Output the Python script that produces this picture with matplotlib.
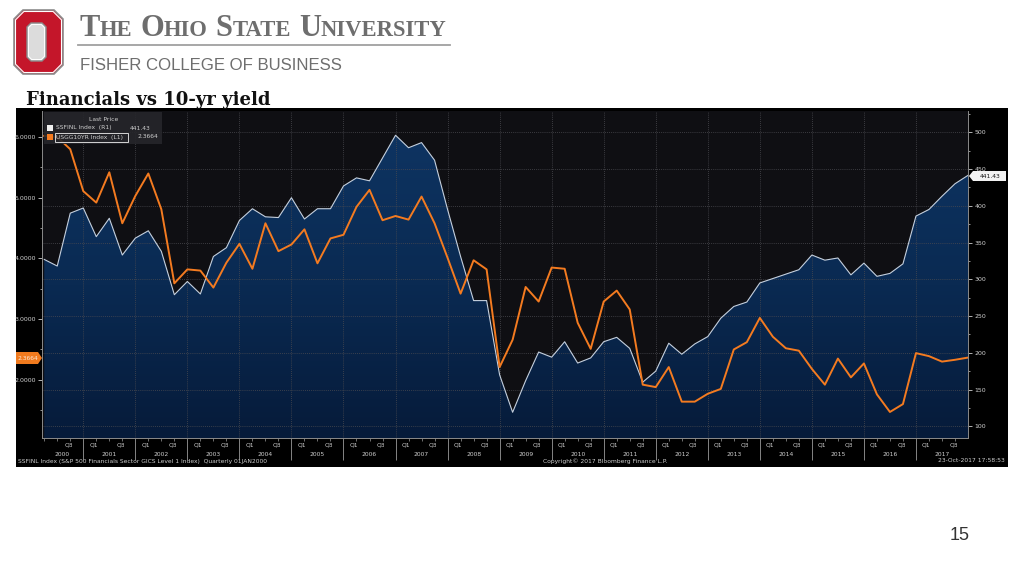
import numpy as np
import pandas as pd
import matplotlib
matplotlib.use('Agg')
import matplotlib.pyplot as plt
from matplotlib.patches import Polygon, Rectangle
from matplotlib.colors import LinearSegmentedColormap
from matplotlib.ticker import MultipleLocator, FormatStrFormatter, NullFormatter

# data, one point per quarter
quarters = pd.period_range('2000Q1', '2017Q4', freq='Q')
ssfinl = [327, 318, 390, 397, 358, 383, 333, 356, 366, 338,
          279, 297, 280, 331, 343, 380, 396, 385, 384, 411,
          382, 396, 396, 427, 438, 434, 465, 496, 479, 486,
          462, 395, 331, 271, 271, 170, 119, 162, 201, 194,
          215, 186, 193, 215, 221, 206, 160, 175, 213, 198,
          212, 222, 247, 263, 269, 295, 301, 307, 313, 333,
          326, 329, 306, 322, 304, 308, 321, 386, 395, 413,
          430, 441.43]
usgg10 = [6.02, 6.00, 5.80, 5.11, 4.92, 5.42, 4.58, 5.03, 5.40, 4.81,
          3.59, 3.82, 3.80, 3.52, 3.93, 4.24, 3.83, 4.58, 4.12, 4.23,
          4.48, 3.92, 4.33, 4.39, 4.85, 5.13, 4.63, 4.70, 4.64, 5.02,
          4.58, 4.01, 3.42, 3.97, 3.82, 2.21, 2.66, 3.53, 3.29, 3.85,
          3.83, 2.94, 2.51, 3.29, 3.47, 3.16, 1.92, 1.88, 2.21, 1.64,
          1.64, 1.77, 1.85, 2.50, 2.62, 3.02, 2.71, 2.52, 2.48, 2.18,
          1.92, 2.35, 2.04, 2.27, 1.76, 1.47, 1.60, 2.44, 2.39, 2.30,
          2.33, 2.3664]
years = list(range(2000, 2018))
right_ticks = list(range(100, 501, 50))
left_ticks = [2, 3, 4, 5, 6]

x = np.array([q.year + q.quarter / 4 for q in quarters])  # quarter end
ss = np.array(ssfinl)
yl = np.array(usgg10)

W, H = 1024, 576
fig = plt.figure(figsize=(W / 100, H / 100), dpi=100)
fig.patch.set_facecolor('white')

# background layer in pixel coords
bg = fig.add_axes([0, 0, 1, 1], zorder=-1)
bg.set_xlim(0, W)
bg.set_ylim(H, 0)
bg.axis('off')

def octagon(x0, y0, x1, y1, c):
    return [(x0 + c, y0), (x1 - c, y0), (x1, y0 + c), (x1, y1 - c),
            (x1 - c, y1), (x0 + c, y1), (x0, y1 - c), (x0, y0 + c)]

# block O logo
bg.add_patch(Polygon(octagon(14, 10, 63, 74, 9), closed=True, fc='#c4162a', ec='#8c8c8c', lw=1.2))
bg.add_patch(Polygon(octagon(15.5, 11.5, 61.5, 72.5, 8.4), closed=True, fc='none', ec='white', lw=0.8))
bg.add_patch(Polygon(octagon(27, 23, 46, 61, 4), closed=True, fc='#dcdcdc', ec='#8c8c8c', lw=1.0))
bg.add_patch(Polygon(octagon(28.5, 24.5, 44.5, 59.5, 3.2), closed=True, fc='none', ec='white', lw=0.7))

# small caps university name
r = fig.canvas.get_renderer()
parts = [('T', 1), ('HE', 0), (' ', 0), ('O', 1), ('HIO', 0), (' ', 0),
         ('S', 1), ('TATE', 0), (' ', 0), ('U', 1), ('NIVERSITY', 0)]
xp = 79
for s, big in parts:
    if s == ' ':
        xp += 8
        continue
    t = bg.text(xp, 36, s, fontsize=22 if big else 16.3, fontweight='bold',
                family='Liberation Serif', color='#6e6e6e', va='baseline', ha='left')
    xp += t.get_window_extent(r).width
bg.plot([78, 450], [45, 45], color='#a0a0a0', lw=1.3)
bg.text(80, 70, 'FISHER COLLEGE OF BUSINESS', fontsize=12.1, family='Liberation Sans',
        color='#6e6e6e', va='baseline', ha='left')
bg.text(26, 105, 'Financials vs 10-yr yield', fontsize=13, fontweight='bold',
        family='DejaVu Serif', color='#111111', va='baseline', ha='left')
bg.text(960, 536, '15', fontsize=13, family='Liberation Sans', color='#333333',
        ha='center', va='center')

# bloomberg black panel
bg.add_patch(Rectangle((16, 108), 992, 359, fc='black', ec='none'))
small = dict(fontsize=4.3, color='#cfcfcf', family='DejaVu Sans')
bg.text(18, 461, 'SSFINL Index (S&P 500 Financials Sector GICS Level 1 Index)  Quarterly 01JAN2000',
        va='center', ha='left', **small)
bg.text(605, 461, 'Copyright\u00a9 2017 Bloomberg Finance L.P.', va='center', ha='center', **small)
bg.text(1005, 461, '23-Oct-2017 17:58:53', va='center', ha='right', **small)

# plot axes
px0, px1, py0, py1 = 42, 968, 111, 438
rect = [px0 / W, 1 - py1 / H, (px1 - px0) / W, (py1 - py0) / H]
ax = fig.add_axes(rect)          # SSFINL, right scale
ax2 = ax.twinx()                 # USGG10YR, left scale
ax.set_facecolor('#0f0f13')
ax2.patch.set_visible(False)

xlo, xhi = 2000.207, 2018.0
rlo, rhi = 84, 529
llo, lhi = 1.041, 6.43

poly = ax.fill_between(x, ss, rlo, color='none', lw=0)
cmap = LinearSegmentedColormap.from_list('bb', ['#061b3a', '#0a2a52', '#0e3462'])
grad = np.linspace(0, 1, 256).reshape(-1, 1)
im = ax.imshow(grad, extent=[xlo, xhi, rlo, 500], origin='lower', aspect='auto',
               cmap=cmap, zorder=1)
im.set_clip_path(poly.get_paths()[0], transform=ax.transData)
ax.plot(x, ss, color='#c5d0de', lw=0.8, zorder=2)
ax2.plot(x, yl, color='#f47b20', lw=1.4, zorder=3)

ax.set_xlim(xlo, xhi)
ax.set_ylim(rlo, rhi)
ax2.set_ylim(llo, lhi)

# grid
ax.set_axisbelow('line')
ax.grid(True, which='major', axis='both', color='#4a4a50', ls=(0, (1, 1.5)), lw=0.6)

# right axis (SSFINL)
ax.yaxis.tick_right()
ax.set_yticks(right_ticks)
ax.yaxis.set_minor_locator(MultipleLocator(25))
ax.tick_params(axis='y', which='major', colors='#d0d0d0', labelsize=4.5, length=3, width=0.6, pad=1.5)
ax.tick_params(axis='y', which='minor', colors='#d0d0d0', length=1.5, width=0.5)

# left axis (yield)
ax2.yaxis.tick_left()
ax2.set_yticks(left_ticks)
ax2.yaxis.set_major_formatter(FormatStrFormatter('%.4f'))
ax2.yaxis.set_minor_locator(MultipleLocator(0.5))
ax2.tick_params(axis='y', which='major', colors='#d0d0d0', labelsize=4.5, length=3, width=0.6, pad=1.5)
ax2.tick_params(axis='y', which='minor', colors='#d0d0d0', length=1.5, width=0.5)
ax2.tick_params(axis='x', which='both', bottom=False, labelbottom=False)

# x axis: year boundaries as long ticks, quarters as short ticks
ax.set_xticks(years[1:])
ax.xaxis.set_major_formatter(NullFormatter())
ax.set_xticks(np.arange(2000.25, 2018, 0.25), minor=True)
ax.tick_params(axis='x', which='major', colors='#9a9a9a', length=16, width=0.6)
ax.tick_params(axis='x', which='minor', colors='#9a9a9a', length=2, width=0.5)
for a in (ax, ax2):
    a.spines['top'].set_visible(False)
    for side in ('left', 'right', 'bottom'):
        a.spines[side].set_color('#8a8a8a')
        a.spines[side].set_linewidth(0.6)

tr = ax.get_xaxis_transform()
for yr in years:
    if yr > 2000:
        ax.text(yr + 0.2, -0.015, 'Q1', transform=tr, ha='center', va='top', fontsize=4.3, color='#cfcfcf')
    ax.text(yr + 0.72, -0.015, 'Q3', transform=tr, ha='center', va='top', fontsize=4.3, color='#cfcfcf')
    ax.text(yr + 0.6 if yr == 2000 else yr + 0.5, -0.042, str(yr), transform=tr,
            ha='center', va='top', fontsize=4.3, color='#cfcfcf')

# foreground overlay: legend and last value tags
fg = fig.add_axes([0, 0, 1, 1], zorder=10)
fg.set_xlim(0, W)
fg.set_ylim(H, 0)
fg.axis('off')
fg.add_patch(Rectangle((44, 112), 118, 32, fc='#26262b', ec='none', alpha=0.9))
fg.text(104, 119.5, 'Last Price', ha='center', va='center', **small)
fg.add_patch(Rectangle((47, 125), 6, 6, fc='#f0f0f0', ec='none'))
fg.add_patch(Rectangle((47, 134), 6, 6, fc='#f47b20', ec='none'))
fg.text(56, 128, 'SSFINL Index  (R1)', ha='left', va='center', **small)
fg.text(130, 128, '441.43', ha='left', va='center', **small)
fg.text(56, 137, 'USGG10YR Index  (L1)', ha='left', va='center', **small)
fg.add_patch(Rectangle((55, 132.5), 73, 9, fc='none', ec='#f0f0f0', lw=0.6))
fg.text(138, 137, '2.3664', ha='left', va='center', **small)

fg.add_patch(Polygon([(969, 176), (973, 171), (1006, 171), (1006, 181), (973, 181)],
                     closed=True, fc='#f2f2f2', ec='none'))
fg.text(990, 176, '441.43', ha='center', va='center', fontsize=4.3, color='#111111')
fg.add_patch(Polygon([(16, 352), (38, 352), (42, 358), (38, 364), (16, 364)],
                     closed=True, fc='#f07a1e', ec='none'))
fg.text(28, 358, '2.3664', ha='center', va='center', fontsize=4.3, color='#fbe8d8')

fig.savefig('out.png', dpi=100, facecolor='white')
